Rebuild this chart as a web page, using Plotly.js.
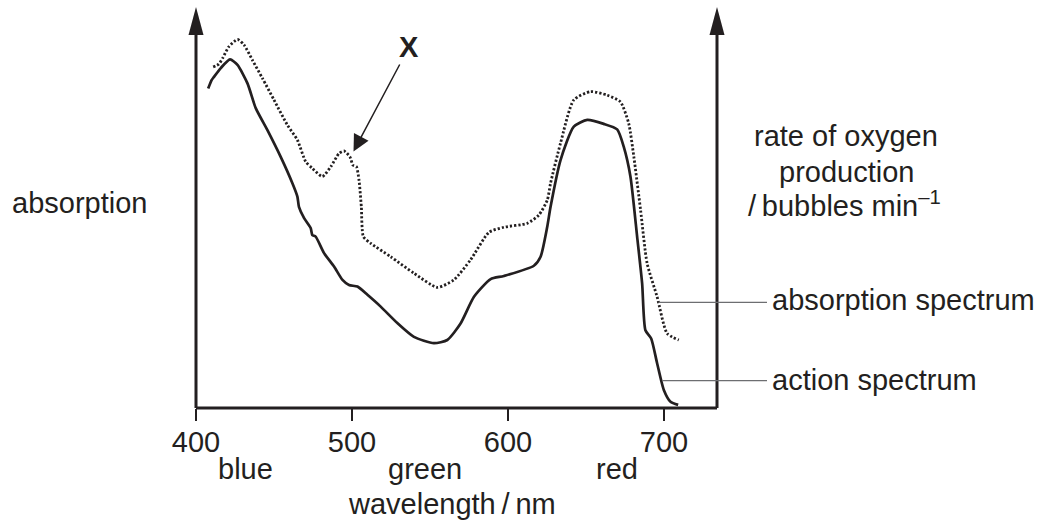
<!DOCTYPE html>
<html>
<head>
<meta charset="utf-8">
<script src="https://cdn.plot.ly/plotly-3.0.1.min.js"></script>
<style>html,body{margin:0;padding:0;background:#fff;}#chart{width:1041px;height:523px;}</style>
</head>
<body>
<div id="chart"></div>
<script>
// wavelength (nm) and relative height for the action spectrum (solid line)
var actionX = [407.8,410.1,411.4,415.9,421.8,426.6,433.0,438.3,445.8,454.3,461.8,465.0,466.0,469.3,473.5,474.6,476.7,482.1,488.5,493.9,498.1,503.5,509.9,518.4,529.1,539.7,552.5,561.1,569.6,578.2,588.9,597.4,616.6,620.9,625.2,627.3,633.7,642.2,650.8,661.4,670.0,674.2,678.5,682.8,686.0,688.1,691.8,695.6,699.9,704.2,709.1];
var actionY = [81.3,83.5,84.2,86.5,88.7,87.3,82.6,76.3,70.7,63.9,57.2,53.8,51.2,48.3,45.8,44.0,43.6,39.4,36.0,32.6,31.3,30.9,28.8,25.8,21.6,18.1,16.5,17.3,21.5,28.3,32.8,33.6,36.2,38.5,46.2,51.2,63.1,71.6,73.3,72.3,70.9,66.5,58.9,43.6,31.7,19.8,17.7,11.4,4.6,1.6,0.8];
// wavelength (nm) and relative height for the absorption spectrum (dotted line)
var absorbX = [411.0,414.6,417.2,421.0,426.6,430.8,436.2,442.6,450.0,458.6,465.0,470.3,474.6,481.0,486.4,491.7,494.9,498.7,500.6,502.8,504.5,506.0,507.3,512.0,524.8,539.7,554.7,565.3,576.0,587.8,597.4,612.4,619.8,625.2,627.3,633.7,642.2,652.9,663.6,672.1,677.4,680.7,685.0,689.2,695.6,702.0,709.5];
var absorbY = [86.8,87.5,89.1,91.9,93.8,92.4,88.5,83.9,78.4,72.0,68.2,62.7,61.0,58.9,61.4,64.8,65.4,63.9,61.8,61.4,58.0,51.2,43.6,41.9,38.5,34.3,30.7,32.6,37.7,44.7,46.0,47.0,49.1,52.9,57.2,67.4,78.4,80.5,79.6,77.9,72.4,63.9,50.4,36.8,28.3,19.0,17.3];

var tickVals = [400,500,600,700];
var tickText = ['400','500','600','700'];
var colourNames = ['blue','green','red'];

var ink = '#231f20';
var fontFam = '"Liberation Sans", Arial, Helvetica, sans-serif';
var fs = 29;

var traces = [
  {x: absorbX, y: absorbY, type:'scatter', mode:'lines', line:{color:ink, width:2.8, dash:'2.2px,2px', shape:'spline', smoothing:0.6}, hoverinfo:'skip'},
  {x: actionX, y: actionY, type:'scatter', mode:'lines', line:{color:ink, width:2.7, shape:'spline', smoothing:0.6}, hoverinfo:'skip'},
  // invisible trace so the tick-mark axis (x2) is drawn
  {x: tickVals, y: tickVals.map(function(){return 0;}), xaxis:'x2', yaxis:'y', type:'scatter', mode:'none', hoverinfo:'skip'}
];

function px2x(p){ return (p-196)/521; }
function py2y(p){ return (408-p)/401; }

var ann = [];
function txt(t, x, y, xa, opt){
  var a = {text:t, xref:'paper', yref:'paper', x:px2x(x), y:py2y(y), xanchor:xa||'center', yanchor:'middle', showarrow:false, font:{family:fontFam, size:fs, color:ink}};
  if(opt){ for(var k in opt){ a[k]=opt[k]; } }
  ann.push(a);
}
txt('absorption', 10, 203, 'left');
txt('rate of oxygen', 846, 136);
txt('production', 846, 172);
txt('/\u2009bubbles min<sup>\u20131</sup>', 844, 204);
txt('absorption spectrum', 770, 300, 'left');
txt('action spectrum', 770, 380, 'left');
var colourPos = [245.8, 425, 616.5];
colourNames.forEach(function(c,i){ txt(c, colourPos[i], 469); });
txt('wavelength\u2009/\u2009nm', 451.6, 504);
// "X" label with its arrow pointing at the shoulder of the absorption spectrum
ann.push({text:'<b>X</b>', xref:'paper', yref:'paper', x:px2x(353.5), y:py2y(151.5), ax:55.5, ay:-104.5, showarrow:true, arrowhead:2, arrowsize:2.2, arrowwidth:1.5, arrowcolor:ink, standoff:0, font:{family:fontFam, size:29, color:ink}});

var shapes = [
  {type:'line', xref:'paper', yref:'paper', x0:0, x1:0, y0:0, y1:0.96, line:{color:ink, width:3}},
  {type:'line', xref:'paper', yref:'paper', x0:1, x1:1, y0:0, y1:0.96, line:{color:ink, width:3}},
  {type:'line', xref:'paper', yref:'paper', x0:0, x1:1, y0:0, y1:0, line:{color:ink, width:3}},
  {type:'path', xref:'paper', yref:'paper', xsizemode:'pixel', ysizemode:'pixel', xanchor:0, yanchor:1, path:'M -7.5 -28 L 7.5 -28 L 0 0 Z', fillcolor:ink, line:{width:0}},
  {type:'path', xref:'paper', yref:'paper', xsizemode:'pixel', ysizemode:'pixel', xanchor:1, yanchor:1, path:'M -7.5 -28 L 7.5 -28 L 0 0 Z', fillcolor:ink, line:{width:0}},
  {type:'line', xref:'paper', yref:'paper', x0:px2x(658.5), x1:px2x(767), y0:py2y(302.4), y1:py2y(302.4), line:{color:'#6d6e71', width:1.3}},
  {type:'line', xref:'paper', yref:'paper', x0:px2x(662), x1:px2x(767), y0:py2y(380.6), y1:py2y(380.6), line:{color:'#6d6e71', width:1.3}}
];

var layout = {
  width:1041, height:523,
  margin:{l:196, r:324, t:7, b:115, pad:0},
  paper_bgcolor:'#fff', plot_bgcolor:'#fff',
  showlegend:false,
  xaxis:{range:[400,734], showgrid:false, zeroline:false, showline:false, ticks:'outside', ticklen:8, tickwidth:2.5, tickcolor:ink, tickvals:tickVals, ticktext:tickText, tickfont:{family:fontFam, size:fs, color:ink}, fixedrange:true},
  // second axis on the same scale, used only for the longer tick marks
  xaxis2:{overlaying:'x', anchor:'y', side:'bottom', range:[400,734], showgrid:false, zeroline:false, showline:false, ticks:'outside', ticklen:12, tickwidth:2.5, tickcolor:ink, tickvals:tickVals, showticklabels:false, fixedrange:true},
  yaxis:{range:[0,102.04], showgrid:false, zeroline:false, showline:false, showticklabels:false, ticks:'', fixedrange:true},
  annotations:ann,
  shapes:shapes
};

Plotly.newPlot('chart', traces, layout, {displayModeBar:false, staticPlot:true});
</script>
</body>
</html>
